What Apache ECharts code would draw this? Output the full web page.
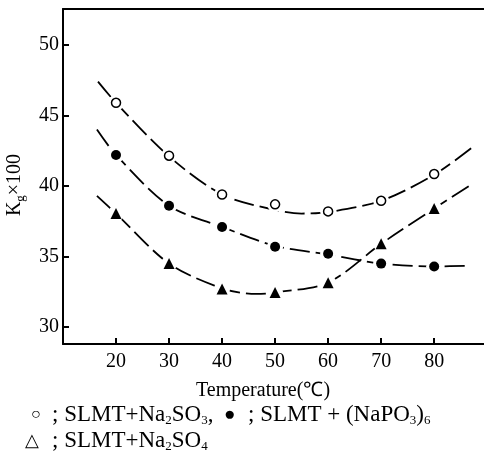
<!DOCTYPE html>
<html>
<head>
<meta charset="utf-8">
<script src="https://cdn.jsdelivr.net/npm/echarts@6/dist/echarts.min.js"></script>
<style>
  html, body { margin: 0; padding: 0; background: #fff; }
  #chart { width: 484px; height: 474px; }
</style>
</head>
<body>
<div id="chart"></div>
<script>
// measured points, temperature (C) vs Kg x 100
const temps = [20, 30, 40, 50, 60, 70, 80]
const na2so3 = [45.9, 42.15, 39.4, 38.7, 38.2, 38.95, 40.85]
const napo3 = [42.2, 38.6, 37.1, 35.7, 35.2, 34.5, 34.3]
const na2so4 = [38.05, 34.5, 32.7, 32.45, 33.15, 35.9, 38.4]

// fitted curves, [temp, value]
const curveNa2so3 = [[16.6, 47.4], [20, 45.9], [30, 42.1], [40, 39.4], [50, 38.3], [55, 38.05], [60, 38.15], [70, 38.95], [80, 40.8], [87.4, 42.8]]
const curveNapo3 = [[16.4, 44.0], [20, 42.2], [30, 38.6], [40, 37.1], [50, 35.75], [60, 35.15], [70, 34.5], [80, 34.3], [86.8, 34.35]]
const curveNa2so4 = [[16.4, 39.3], [20, 38.05], [30, 34.5], [40, 32.75], [46.5, 32.35], [50, 32.45], [60, 33.15], [70, 35.9], [80, 38.4], [87.4, 40.2]]

const serif = 'Liberation Serif'
const chart = echarts.init(document.getElementById('chart'))

const pts = vals => temps.map((t, i) => [t, vals[i]])

function curve(data) {
  return {
    type: 'line',
    data: data,
    smooth: 0.3,
    symbol: 'none',
    z: 2,
    lineStyle: { color: '#000', width: 1.8, type: [20, 6] },
    animation: false
  }
}

function halo(vals) {
  return {
    type: 'scatter',
    data: pts(vals),
    symbol: 'circle',
    symbolSize: 16,
    z: 3,
    itemStyle: { color: '#fff', opacity: 1 },
    silent: true,
    animation: false
  }
}

function marks(vals, symbol, size, style) {
  return {
    type: 'scatter',
    data: pts(vals),
    symbol: symbol,
    symbolSize: size,
    z: 4,
    itemStyle: Object.assign({ opacity: 1 }, style),
    animation: false
  }
}

const sub = { fontSize: 13, fontFamily: serif, lineHeight: 16, verticalAlign: 'bottom', fill: '#000' }

function label(x, y, text, size) {
  return {
    type: 'text',
    x: x,
    y: y,
    style: {
      text: text,
      fontFamily: serif,
      fontSize: size,
      lineHeight: 25,
      fill: '#000',
      align: 'left',
      verticalAlign: 'middle',
      rich: { s: sub }
    }
  }
}

chart.setOption({
  backgroundColor: '#fff',
  animation: false,
  grid: { left: 63, top: 9, right: 0, bottom: 130 },
  xAxis: [{
    type: 'value',
    min: 10,
    max: 89.4,
    interval: 10,
    splitLine: { show: false },
    axisLine: { lineStyle: { color: '#000', width: 2 } },
    axisTick: { inside: true, length: 6, lineStyle: { color: '#000', width: 2 } },
    axisLabel: {
      showMinLabel: false,
      showMaxLabel: false,
      margin: 8,
      color: '#000',
      fontFamily: serif,
      fontSize: 20
    }
  }, {
    type: 'value',
    position: 'top',
    min: 10,
    max: 89.4,
    splitLine: { show: false },
    axisLine: { show: true, lineStyle: { color: '#000', width: 2 } },
    axisTick: { show: false },
    axisLabel: { show: false }
  }],
  yAxis: {
    type: 'value',
    min: 28.8,
    max: 52.55,
    splitNumber: 5,
    splitLine: { show: false },
    axisLine: { lineStyle: { color: '#000', width: 2 } },
    axisTick: { inside: true, length: 6, lineStyle: { color: '#000', width: 2 } },
    axisLabel: {
      margin: 4,
      color: '#000',
      fontFamily: serif,
      fontSize: 20,
      formatter: v => (Math.abs(v % 5) < 1e-6 ? String(v) : '')
    }
  },
  graphic: [{
    type: 'text',
    x: 15,
    y: 185,
    rotation: Math.PI / 2,
    style: {
      text: 'K{s|g}×100',
      fontFamily: serif,
      fontSize: 20,
      lineHeight: 24,
      fill: '#000',
      align: 'center',
      verticalAlign: 'middle',
      rich: { s: sub }
    }
  }, {
    type: 'text',
    x: 263,
    y: 391,
    style: {
      text: 'Temperature(℃)',
      fontFamily: serif,
      fontSize: 20,
      fill: '#000',
      align: 'center',
      verticalAlign: 'middle'
    }
  },
  label(31, 415, '○', 16),
  label(52, 415, '; SLMT+Na{s|2}SO{s|3},', 23),
  label(224, 415, '●', 19),
  label(248, 415, '; SLMT + (NaPO{s|3}){s|6}', 23),
  label(25, 441, '△', 18),
  label(52, 441, '; SLMT+Na{s|2}SO{s|4}', 23)
  ],
  series: [
    curve(curveNa2so3),
    curve(curveNapo3),
    curve(curveNa2so4),
    halo(na2so3),
    halo(napo3),
    halo(na2so4),
    marks(na2so3, 'circle', 9, { color: '#fff', borderColor: '#000', borderWidth: 1.5 }),
    marks(napo3, 'circle', 10, { color: '#000' }),
    marks(na2so4, 'triangle', 11, { color: '#000' })
  ]
})
</script>
</body>
</html>
